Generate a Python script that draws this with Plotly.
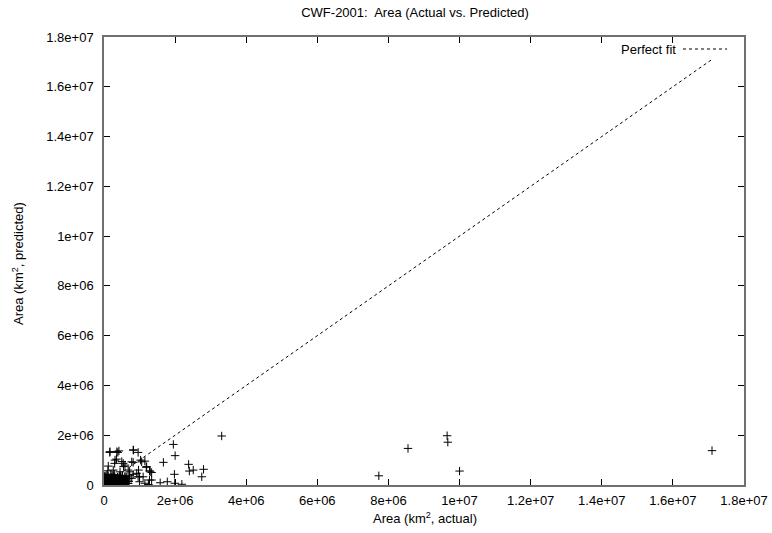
import plotly.graph_objects as go

# Data (thousand km^2): actual vs predicted
actual_k = [
    17100, 9650, 9670, 8550, 7730, 10000,
    3310, 1950, 2000, 1670, 2380, 2400, 2510, 2800, 2750, 1980, 1580, 1780, 2190, 1990, 1340, 1340,
    160, 390, 820, 960, 350, 300, 540, 820, 1030, 1190, 1280, 110, 720, 960, 1280, 1250,
    420, 170, 310, 120, 780, 550, 820, 1000, 970, 1150, 1060,
    360, 830, 500, 590, 1200, 1300, 260, 450, 680, 920, 1100, 1000, 1150, 590, 780,
    1, 2, 10, 20, 30, 50, 5, 15, 25, 40, 60, 70, 80, 90, 100, 110, 120, 130, 150, 160,
    170, 180, 200, 210, 230, 250, 260, 280, 300, 320, 330, 350, 380, 400, 420, 450, 480, 500,
    520, 550, 580, 600, 0.5, 3, 8, 12, 18, 22, 28, 35, 45, 55, 65, 75, 85, 95, 105, 115, 125,
    135, 145, 155, 165, 175, 185, 195, 215, 225, 240, 245, 270, 290, 310, 340, 360, 370, 390,
    410, 430, 440, 460, 470, 490, 510, 530, 560, 590, 620, 640, 660, 680, 700, 720,
    6, 14, 40, 60, 90, 8, 30, 11, 50, 80, 2, 4, 7, 9, 16, 19, 24, 33, 38, 42, 48, 52, 58,
    62, 68, 72, 78, 88, 98, 102, 108, 118, 140, 190, 260, 300, 340, 420, 470, 380, 540, 640,
    560, 700,
]
predicted_k = [
    1380, 1980, 1720, 1470, 370, 560,
    1970, 1630, 1180, 910, 830, 560, 600, 630, 330, 430, 90, 130, 30, 70, 500, 200,
    1310, 1310, 1410, 1310, 1040, 870, 870, 910, 1000, 710, 570, 570, 530, 330, 200, 20,
    1370, 1340, 1000, 760, 930, 740, 430, 330, 600, 960, 930,
    1340, 1400, 940, 800, 740, 530, 600, 530, 600, 470, 330, 130, 70, 330, 270,
    5, 8, 3, 15, 40, 20, 60, 90, 120, 80, 50, 110, 30, 150, 70, 200, 100, 40, 180, 250,
    130, 60, 90, 300, 150, 220, 50, 110, 180, 260, 80, 140, 320, 200, 60, 110, 280, 160,
    380, 90, 220, 40, 1, 25, 45, 10, 70, 30, 100, 10, 160, 200, 5, 240, 80, 20, 130, 350, 170,
    210, 15, 90, 60, 280, 190, 30, 120, 400, 70, 180, 300, 25, 120, 200, 60, 250, 100,
    150, 350, 10, 240, 80, 30, 300, 120, 180, 330, 90, 200, 140, 60, 260, 390,
    200, 280, 330, 380, 420, 150, 240, 350, 300, 180, 110, 40, 15, 85, 5, 55, 2, 65, 130,
    28, 95, 12, 75, 140, 35, 190, 8, 55, 105, 230, 16, 70, 300, 400, 380, 430, 40, 260, 370,
    20, 250, 330, 10, 150,
]
fit_range_k = [0, 17100]

x_tickvals = [0, 2e6, 4e6, 6e6, 8e6, 1e7, 1.2e7, 1.4e7, 1.6e7, 1.8e7]
x_ticktext = ["0", "2e+06", "4e+06", "6e+06", "8e+06", "1e+07", "1.2e+07", "1.4e+07", "1.6e+07", "1.8e+07"]
y_tickvals = x_tickvals
y_ticktext = x_ticktext

actual = [v * 1000 for v in actual_k]
predicted = [v * 1000 for v in predicted_k]
fit = [v * 1000 for v in fit_range_k]

font = "Liberation Sans, Arial, sans-serif"
L, R, T, B = 104, 28, 37, 48
PW, PH = 772 - L - R, 533 - T - B

def px(xp):
    return (xp - L) / PW

def py(yp):
    return (533 - B - yp) / PH

fig = go.Figure()
fig.add_trace(go.Scatter(
    x=actual, y=predicted, mode="markers",
    marker=dict(symbol="cross-thin", size=6, line=dict(color="black", width=1), color="black"),
    showlegend=False, hoverinfo="skip",
))
fig.add_trace(go.Scatter(
    x=fit, y=fit, mode="lines",
    line=dict(color="black", width=1, dash="3px,3px"),
    showlegend=False, hoverinfo="skip",
))

axis_common = dict(
    showgrid=False, zeroline=False, showline=True, linecolor="#707070", linewidth=1.5,
    mirror="ticks", ticks="inside", ticklen=6, tickcolor="black", tickwidth=1,
    tickfont=dict(family=font, size=13, color="black"), automargin=False,
)

fig.update_layout(
    width=772, height=533,
    margin=dict(l=L, r=R, t=T, b=B),
    paper_bgcolor="white", plot_bgcolor="white",
    xaxis=dict(range=[0, 1.8e7], tickvals=x_tickvals, ticktext=x_ticktext,
               ticklabelstandoff=3, **axis_common),
    yaxis=dict(range=[0, 1.8e7], tickvals=y_tickvals, ticktext=y_ticktext,
               ticklabelstandoff=6, **axis_common),
    title=dict(text="CWF-2001:  Area (Actual vs. Predicted)", x=415 / 772, xanchor="center",
               y=1 - 12 / 533, yanchor="middle", font=dict(family=font, size=13, color="black")),
    showlegend=False,
)

# axis titles
fig.add_annotation(text="Area (km<sup>2</sup>, actual)", xref="paper", yref="paper",
                   x=px(425), y=py(518), xanchor="center", yanchor="middle", showarrow=False,
                   font=dict(family=font, size=13, color="black"))
fig.add_annotation(text="Area (km<sup>2</sup>, predicted)", xref="paper", yref="paper",
                   x=px(18), y=py(264), xanchor="center", yanchor="middle", showarrow=False,
                   textangle=-90, font=dict(family=font, size=13, color="black"))

# gnuplot-style key: text on the left, line sample on the right
fig.add_annotation(text="Perfect fit", xref="paper", yref="paper",
                   x=px(678), y=py(49), xanchor="right", yanchor="middle",
                   showarrow=False, font=dict(family=font, size=13, color="black"))
fig.add_shape(type="line", xref="paper", yref="paper",
              x0=px(683), x1=px(727), y0=py(49), y1=py(49),
              line=dict(color="black", width=1, dash="3px,3px"))

fig.write_html("out.html")
